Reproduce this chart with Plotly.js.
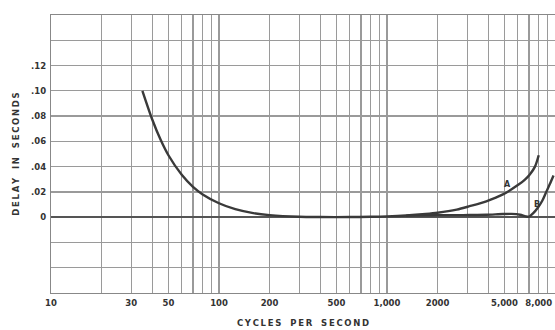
<!DOCTYPE html>
<html>
<head>
<meta charset="utf-8">
<script src="https://cdn.plot.ly/plotly-3.0.1.min.js"></script>
<style>html,body{margin:0;padding:0;background:#fff;}#chart{width:555px;height:330px;}</style>
</head>
<body>
<div id="chart"></div>
<script>
// Curve A
const freqA = [35, 40, 45, 50, 60, 70, 80, 100, 125, 160, 200, 300, 400, 600, 800, 1000, 1300, 1700, 2000, 2600, 3100, 3900, 4900, 6100, 6600, 7100, 7600, 8000];
const delayA = [0.100, 0.0775, 0.061, 0.049, 0.0335, 0.024, 0.018, 0.011, 0.0063, 0.0032, 0.0016, 0.0003, 0.0001, 0.0001, 0.0003, 0.0006, 0.0013, 0.0025, 0.0035, 0.006, 0.0087, 0.0126, 0.018, 0.026, 0.0295, 0.034, 0.040, 0.049];
// Curve B
const freqB = [1300, 1700, 2000, 2600, 3100, 3900, 4900, 5500, 6200, 6700, 7000, 7400, 7900, 8400, 8800, 9300, 9800];
const delayB = [0.0012, 0.0015, 0.0016, 0.0016, 0.0017, 0.0019, 0.0025, 0.0026, 0.0019, 0.0006, 0.0004, 0.003, 0.0075, 0.013, 0.019, 0.026, 0.033];

// Axis ticks
const xTickVals = [10,20,30,40,50,60,70,80,90,100,200,300,400,500,600,700,800,900,1000,2000,3000,4000,5000,6000,7000,8000,9000];
const xTickText = ['10','','30','','50','','','','','100','200','','','500','','','','','1,000','2000','','','5,000','','','8,000',''];
const yTickVals = [-0.06,-0.04,-0.02,0,0.02,0.04,0.06,0.08,0.10,0.12,0.14,0.16];
const yTickText = ['','','','0','.02','.04','.06','.08','.10','.12','',''];

const spaced = s => s.split(' ').map(w => w.split('').join('\u2009')).join('   ');

const lineColor = '#3a3a3a';
const traces = [
  {x: freqA, y: delayA, mode: 'lines', line: {color: lineColor, width: 2.4, shape: 'spline', smoothing: 0.8}, hoverinfo: 'skip'},
  {x: freqB, y: delayB, mode: 'lines', line: {color: lineColor, width: 2.4, shape: 'spline', smoothing: 0.8}, hoverinfo: 'skip'}
];

const fam = 'DejaVu Sans, Arial, sans-serif';
const tickFont = {family: fam, size: 8.5, color: '#333', weight: 'bold'};
const titleFont = {family: fam, size: 8.5, color: '#333', weight: 'bold'};
const layout = {
  width: 555, height: 330,
  margin: {l: 51, r: 0, t: 15, b: 37},
  paper_bgcolor: '#fff', plot_bgcolor: '#fff',
  showlegend: false,
  font: {family: fam, size: 8.5, color: '#333'},
  xaxis: {
    type: 'log', range: [1, 4],
    tickmode: 'array', tickvals: xTickVals, ticktext: xTickText,
    showgrid: true, gridcolor: '#9a9a9a', gridwidth: 1.2,
    zeroline: false, showline: true, linecolor: '#888', linewidth: 1.2, mirror: true,
    ticks: '', ticklabelstandoff: 2, ticklabeloverflow: 'allow',
    tickfont: tickFont,
    title: {text: spaced('CYCLES PER SECOND'), font: titleFont, standoff: 12}
  },
  yaxis: {
    range: [-0.06, 0.16],
    tickmode: 'array', tickvals: yTickVals, ticktext: yTickText,
    showgrid: true, gridcolor: '#9a9a9a', gridwidth: 1.2,
    zeroline: true, zerolinecolor: '#555', zerolinewidth: 1.8,
    showline: true, linecolor: '#888', linewidth: 1.2, mirror: true,
    ticks: '', ticklabelstandoff: 2,
    tickfont: tickFont,
    title: {text: spaced('DELAY IN SECONDS'), font: titleFont, standoff: 10}
  },
  annotations: [
    {x: Math.log10(5250), y: 0.026, xref: 'x', yref: 'y', text: 'A', showarrow: false, font: {family: fam, size: 8, color: '#333', weight: 'bold'}},
    {x: Math.log10(7800), y: 0.010, xref: 'x', yref: 'y', text: 'B', showarrow: false, font: {family: fam, size: 8, color: '#333', weight: 'bold'}}
  ]
};

Plotly.newPlot('chart', traces, layout, {displayModeBar: false, staticPlot: true});
</script>
</body>
</html>
